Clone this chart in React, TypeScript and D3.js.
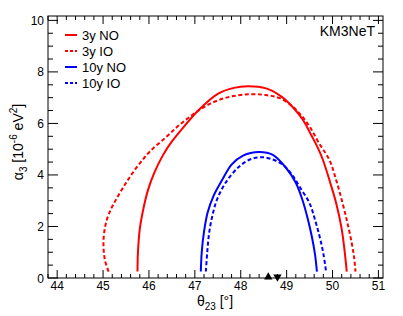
import React from 'react';
import * as d3 from 'd3';

// contour points [theta23 (deg), alpha3 (1e-6 eV^2)]
const nh3y: [number, number][] = [
  [45.75, 0.25], [45.76, 1.0], [45.8, 1.9], [45.88, 2.7], [45.98, 3.42], [46.12, 4.1],
  [46.3, 4.75], [46.5, 5.3], [46.75, 5.85], [47.1, 6.55], [47.5, 7.15], [47.85, 7.38],
  [48.16, 7.44], [48.55, 7.36], [48.88, 7.05], [49.14, 6.62], [49.35, 6.15], [49.55, 5.5],
  [49.68, 5.05], [49.79, 4.59], [49.95, 3.7], [50.08, 2.9], [50.2, 1.9], [50.26, 1.1], [50.31, 0.25],
];
const ih3y: [number, number][] = [
  [45.12, 0.25], [45.04, 0.7], [45.01, 1.2], [45.02, 1.7], [45.08, 2.25], [45.18, 2.7],
  [45.3, 3.1], [45.45, 3.55], [45.59, 3.94], [45.8, 4.45], [46.02, 4.91], [46.38, 5.48],
  [46.67, 5.95], [47.0, 6.4], [47.35, 6.78], [47.75, 7.03], [48.2, 7.13], [48.55, 7.1],
  [48.85, 6.98], [49.1, 6.7], [49.3, 6.35], [49.5, 5.88], [49.7, 5.25], [49.93, 4.59],
  [50.08, 3.8], [50.22, 2.9], [50.33, 2.1], [50.42, 1.34], [50.47, 0.8], [50.5, 0.25],
];
const nh10y: [number, number][] = [
  [47.13, 0.25], [47.15, 1.0], [47.2, 1.8], [47.28, 2.55], [47.41, 3.2], [47.6, 3.82],
  [47.8, 4.4], [48.05, 4.75], [48.4, 4.89], [48.7, 4.78], [48.99, 4.27], [49.2, 3.7],
  [49.35, 3.0], [49.46, 2.3], [49.55, 1.6], [49.62, 0.9], [49.66, 0.25],
];
const ih10y: [number, number][] = [
  [47.24, 0.25], [47.27, 1.0], [47.31, 1.73], [47.38, 2.4], [47.48, 3.03], [47.67, 3.7],
  [47.95, 4.3], [48.2, 4.6], [48.45, 4.69], [48.7, 4.6], [48.92, 4.39], [49.12, 4.0],
  [49.28, 3.55], [49.5, 2.9], [49.62, 2.25], [49.72, 1.6], [49.8, 0.95], [49.86, 0.25],
];
const bestFitNO = 48.6;
const bestFitIO = 48.8;

const series = [
  { label: '3y NO', data: nh3y, color: '#ff0000', dashed: false },
  { label: '3y IO', data: ih3y, color: '#ff0000', dashed: true },
  { label: '10y NO', data: nh10y, color: '#0000ff', dashed: false },
  { label: '10y IO', data: ih10y, color: '#0000ff', dashed: true },
];

const xMajor = [44, 45, 46, 47, 48, 49, 50, 51];
const yMajor = [0, 2, 4, 6, 8, 10];

const W = 403, H = 316;
const L = 48, R = 383, T = 16, B = 278;
const font = '"Liberation Sans", Arial, Helvetica, sans-serif';

export default function App() {
  const x = d3.scaleLinear().domain([43.8, 51.1]).range([L, R]);
  const y = d3.scaleLinear().domain([0, 10.17]).range([B, T]);

  const line = d3.line<[number, number]>()
    .x(d => x(d[0]))
    .y(d => y(d[1]))
    .curve(d3.curveCatmullRom.alpha(0.5));

  const xMinor = d3.range(43.8, 51.1001, 0.2).map(v => +v.toFixed(1)).filter(v => !xMajor.includes(v));
  const yMinor = d3.range(0, 10.01, 0.5).filter(v => !yMajor.includes(v));

  const tri = d3.symbol().type(d3.symbolTriangle).size(30)();

  return (
    <svg width={W} height={H} style={{ position: 'absolute', left: 0, top: 0, background: '#fff' }} fontFamily={font}>
      {/* curves */}
      {series.map(s => (
        <path key={s.label} d={line(s.data) || ''} fill="none" stroke={s.color} strokeWidth={2}
          strokeDasharray={s.dashed ? '4,2.5' : undefined} />
      ))}

      {/* best-fit markers */}
      <path d={tri || ''} transform={`translate(${x(bestFitNO)},${y(0) - 1})`} fill="#000" />
      <path d={tri || ''} transform={`translate(${x(bestFitIO)},${y(0) - 1}) rotate(180)`} fill="#000" />

      {/* frame */}
      <rect x={L} y={T} width={R - L} height={B - T} fill="none" stroke="#000" strokeWidth={1} />

      {/* x ticks */}
      {xMajor.map(v => (
        <g key={'xM' + v}>
          <line x1={x(v)} x2={x(v)} y1={B} y2={B - 8} stroke="#000" />
          <line x1={x(v)} x2={x(v)} y1={T} y2={T + 8} stroke="#000" />
          <text x={x(v)} y={289.5} textAnchor="middle" fontSize={12}>{v}</text>
        </g>
      ))}
      {xMinor.map(v => (
        <g key={'xm' + v}>
          <line x1={x(v)} x2={x(v)} y1={B} y2={B - 4} stroke="#000" />
          <line x1={x(v)} x2={x(v)} y1={T} y2={T + 4} stroke="#000" />
        </g>
      ))}

      {/* y ticks */}
      {yMajor.map(v => (
        <g key={'yM' + v}>
          <line x1={L} x2={L + 10} y1={y(v)} y2={y(v)} stroke="#000" />
          <line x1={R} x2={R - 10} y1={y(v)} y2={y(v)} stroke="#000" />
          <text x={44} y={y(v) + 4.5} textAnchor="end" fontSize={12}>{v}</text>
        </g>
      ))}
      {yMinor.map(v => (
        <g key={'ym' + v}>
          <line x1={L} x2={L + 5} y1={y(v)} y2={y(v)} stroke="#000" />
          <line x1={R} x2={R - 5} y1={y(v)} y2={y(v)} stroke="#000" />
        </g>
      ))}

      {/* axis titles */}
      <text x={215} y={305.5} textAnchor="middle" fontSize={14}>
        θ<tspan fontSize={10} dy={4}>23</tspan><tspan dy={-4}> [°]</tspan>
      </text>
      <text transform={`translate(23,142) rotate(-90)`} textAnchor="middle" fontSize={14}>
        α<tspan fontSize={10} dy={4}>3</tspan><tspan dy={-4}> [10</tspan>
        <tspan fontSize={10} dy={-6}>-6</tspan><tspan dy={6}> eV</tspan>
        <tspan fontSize={10} dy={-6}>2</tspan><tspan dy={6}>]</tspan>
      </text>

      {/* label */}
      <text x={375} y={36} textAnchor="end" fontSize={14}>KM3NeT</text>

      {/* legend */}
      {series.map((s, i) => {
        const ly = 35 + i * 16;
        return (
          <g key={'lg' + s.label}>
            <line x1={65} x2={77} y1={ly} y2={ly} stroke={s.color} strokeWidth={2}
              strokeDasharray={s.dashed ? '3,2' : undefined} />
            <text x={82} y={ly + 4.5} fontSize={13}>{s.label}</text>
          </g>
        );
      })}
    </svg>
  );
}
